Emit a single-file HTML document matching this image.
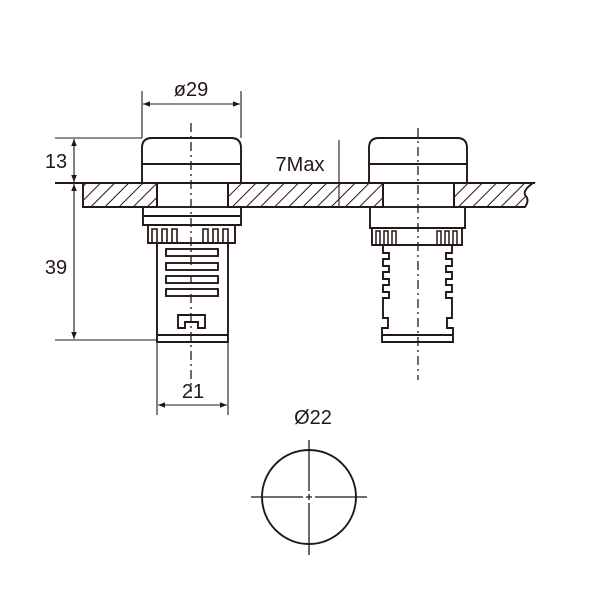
<!DOCTYPE html>
<html><head><meta charset="utf-8"><style>html,body{margin:0;padding:0;background:#fff}svg{display:block}</style></head>
<body>
<svg width="600" height="600" viewBox="0 0 600 600" xmlns="http://www.w3.org/2000/svg">
<defs>
<pattern id="h" patternUnits="userSpaceOnUse" width="10" height="10" patternTransform="rotate(45)">
<line x1="0" y1="0" x2="0" y2="10" stroke="#231815" stroke-width="2"/>
</pattern>
<marker id="a" viewBox="0 0 10 10" refX="10" refY="5" markerWidth="9" markerHeight="7" orient="auto-start-reverse" markerUnits="userSpaceOnUse"><path d="M0,1 L10,5 L0,9 Z" fill="#231815"/></marker>
</defs>
<g stroke="#231815" fill="none" stroke-width="1.9">
<path d="M83,183 H157 V207 H83 Z" fill="url(#h)"/>
<path d="M228,183 H383 V207 H228 Z" fill="url(#h)"/>
<path d="M454,183 H533 Q523,190 525,195 Q530,200 525,207 H454 Z" fill="url(#h)"/>
<line x1="55" y1="183" x2="535" y2="183"/>

<path d="M142,183 V148 Q142,138 152,138 H231 Q241,138 241,148 V183"/>
<line x1="142" y1="164" x2="241" y2="164"/>
<rect x="157" y="183" width="71" height="24"/>
<path d="M143,207 V225 H241 V207"/>
<line x1="143" y1="216" x2="241" y2="216"/>
<path d="M148,225 V243 H235 V225"/>
<path d="M152,243 V229 H157 V243 M162,243 V229 H167 V243 M172,243 V229 H177 V243 M203,243 V229 H208 V243 M213,243 V229 H218 V243 M223,243 V229 H228 V243" stroke-width="1.6"/>
<path d="M157,243 V342 H228 V243"/>
<line x1="157" y1="335" x2="228" y2="335"/>
<rect x="166" y="249" width="52" height="7"/>
<rect x="166" y="263" width="52" height="7"/>
<rect x="166" y="276" width="52" height="7"/>
<rect x="166" y="289" width="52" height="7"/>
<path d="M178,328 V315 H205 V328 H198 V322 H185 V328 Z"/>
<line x1="157" y1="342" x2="157" y2="415" stroke-width="1.1"/>
<line x1="228" y1="342" x2="228" y2="415" stroke-width="1.1"/>

<path d="M369,183 V148 Q369,138 379,138 H457 Q467,138 467,148 V183"/>
<line x1="369" y1="164" x2="467" y2="164"/>
<rect x="383" y="183" width="71" height="24"/>
<path d="M370,207 V228 H465 V207"/>
<path d="M372,228 V245 H462 V228"/>
<path d="M376,245 V231 H380 V245 M384,245 V231 H388 V245 M392,245 V231 H396 V245 M437,245 V231 H441 V245 M445,245 V231 H449 V245 M453,245 V231 H457 V245" stroke-width="1.5"/>
<path d="M383,245 V253 H389 V259 H383 V266 H389 V272 H383 V279 H389 V285 H383 V292 H389 V298 H383 V318 H388 V328 H382 V342 H453 V328 H447 V318 H452 V298 H446 V292 H452 V285 H446 V279 H452 V272 H446 V266 H452 V259 H446 V253 H452 V245"/>
<line x1="382" y1="335" x2="453" y2="335"/>
</g>

<g stroke="#231815" stroke-width="1.3" stroke-dasharray="9,4,2,4">
<line x1="191" y1="123" x2="191" y2="392"/>
<line x1="418" y1="128" x2="418" y2="380"/>
</g>

<g stroke="#231815" stroke-width="1.1">
<line x1="142" y1="91" x2="142" y2="138"/>
<line x1="241" y1="91" x2="241" y2="138"/>
<line x1="143" y1="104" x2="240" y2="104" marker-start="url(#a)" marker-end="url(#a)"/>
<line x1="55" y1="138" x2="142" y2="138"/>
<line x1="74" y1="139" x2="74" y2="182" marker-start="url(#a)" marker-end="url(#a)"/>
<line x1="74" y1="184" x2="74" y2="339" marker-start="url(#a)" marker-end="url(#a)"/>
<line x1="55" y1="340" x2="157" y2="340"/>
<line x1="158" y1="405" x2="227" y2="405" marker-start="url(#a)" marker-end="url(#a)"/>
<line x1="339" y1="140" x2="339" y2="207"/>
</g>

<g stroke="#231815" fill="none">
<circle cx="309" cy="497" r="47" stroke-width="1.9"/>
<path d="M251,497 H303 M306,497 H312 M315,497 H367 M309,440 V491 M309,494 V500 M309,503 V555" stroke-width="1.3"/>
</g>

<g font-family="Liberation Sans, sans-serif" font-size="20" fill="#231815" text-anchor="middle">
<text x="191" y="96">ø29</text>
<text x="56" y="168">13</text>
<text x="56" y="274">39</text>
<text x="193" y="398">21</text>
<text x="300" y="171">7Max</text>
<text x="313" y="424">Ø22</text>
</g>
</svg>
</body></html>
